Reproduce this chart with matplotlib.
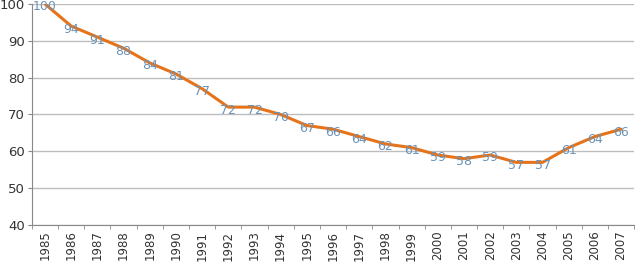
import matplotlib
matplotlib.use("Agg")
import matplotlib.pyplot as plt
import numpy as np

# -----------------------------
# Data
# -----------------------------
years = [str(y) for y in range(1985, 2008)]
values = [100, 94, 91, 88, 84, 81, 77, 72, 72, 70, 67, 66, 64, 62, 61,
          59, 58, 59, 57, 57, 61, 64, 66]

LINE_COLOR = "#E6731A"
LABEL_COLOR = "#6A93B8"
GRID_COLOR = "#BDBDBD"

fig = plt.figure(figsize=(6.38, 2.65), dpi=100)
ax = fig.add_axes([0.050, 0.151, 0.944, 0.834])

x = np.arange(len(years))
ax.plot(x, values, color=LINE_COLOR, lw=2.2, solid_joinstyle="round",
        solid_capstyle="round", zorder=3)

for xi, v in zip(x, values):
    ax.text(xi, v - 0.8, str(v), ha="center", va="center", fontsize=9,
            color=LABEL_COLOR, zorder=4)

ax.set_xlim(-0.5, len(years) - 0.5)
ax.set_ylim(40, 100)
ax.set_yticks(range(40, 101, 10))
ax.yaxis.grid(True, color=GRID_COLOR, lw=1)
ax.set_axisbelow(True)

ax.set_xticks(x)
ax.set_xticklabels(years, rotation=90, fontsize=8.5, color="#333333")
ax.set_xticks(np.arange(-0.5, len(years), 1), minor=True)
ax.tick_params(axis="x", which="major", length=0, pad=4)
ax.tick_params(axis="x", which="minor", length=3, color="#888888")
ax.tick_params(axis="y", length=3, color="#888888", labelsize=9.5,
               labelcolor="#333333", pad=2)

for s in ["top", "right"]:
    ax.spines[s].set_visible(False)
for s in ["left", "bottom"]:
    ax.spines[s].set_color("#888888")
    ax.spines[s].set_linewidth(0.8)

fig.savefig("out.png", dpi=100)
plt.close(fig)
